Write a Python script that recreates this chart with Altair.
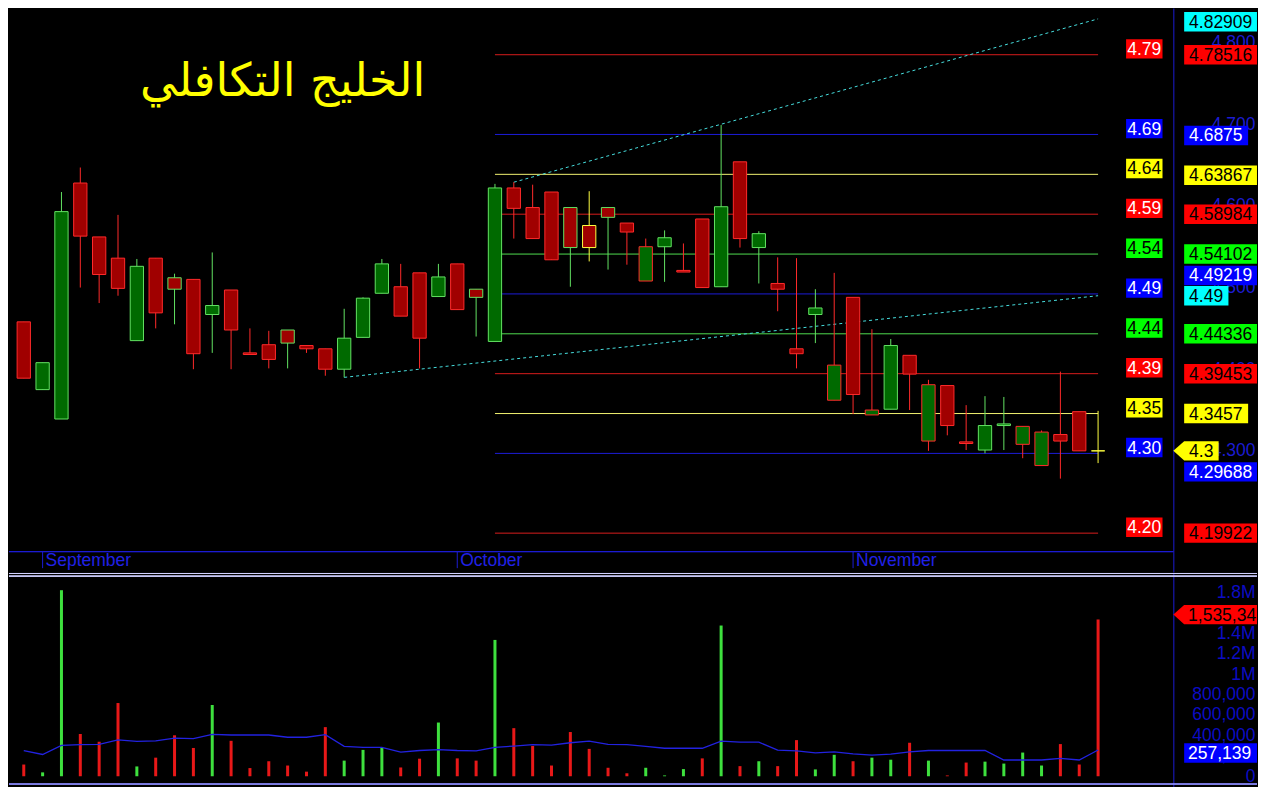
import altair as alt
import pandas as pd

# ------------------------------------------------------------------ data
TITLE = "الخليج التكافلي"
months = ["September", "October", "November"]
month_start = [1, 23, 44]

opens = [4.458, 4.375, 4.339, 4.628, 4.562, 4.536, 4.435, 4.536, 4.512, 4.510,
         4.467, 4.497, 4.420, 4.430, 4.448, 4.429, 4.425, 4.400, 4.439, 4.493,
         4.501, 4.518, 4.489, 4.529, 4.498, 4.434, 4.622, 4.598, 4.617, 4.598,
         4.576, 4.598, 4.579, 4.508, 4.550, 4.521, 4.584, 4.501, 4.654, 4.549,
         4.505, 4.425, 4.467, 4.362, 4.488, 4.344, 4.351, 4.417, 4.312, 4.380,
         4.311, 4.301, 4.331, 4.308, 4.282, 4.320, 4.348, 4.300]
highs = [4.458, 4.408, 4.617, 4.647, 4.562, 4.589, 4.535, 4.536, 4.517, 4.510,
         4.543, 4.497, 4.450, 4.447, 4.448, 4.429, 4.425, 4.474, 4.488, 4.535,
         4.529, 4.518, 4.529, 4.529, 4.498, 4.627, 4.629, 4.626, 4.617, 4.598,
         4.618, 4.598, 4.579, 4.560, 4.570, 4.554, 4.584, 4.699, 4.654, 4.569,
         4.537, 4.536, 4.498, 4.518, 4.488, 4.449, 4.437, 4.417, 4.387, 4.380,
         4.356, 4.367, 4.366, 4.330, 4.325, 4.397, 4.348, 4.349]
lows = [4.389, 4.375, 4.339, 4.500, 4.481, 4.490, 4.435, 4.450, 4.455, 4.400,
        4.420, 4.400, 4.418, 4.401, 4.401, 4.420, 4.392, 4.390, 4.439, 4.493,
        4.465, 4.401, 4.489, 4.473, 4.440, 4.434, 4.560, 4.560, 4.534, 4.501,
        4.532, 4.522, 4.528, 4.508, 4.507, 4.519, 4.500, 4.501, 4.549, 4.505,
        4.471, 4.401, 4.432, 4.362, 4.345, 4.344, 4.351, 4.350, 4.300, 4.319,
        4.301, 4.297, 4.301, 4.291, 4.282, 4.266, 4.300, 4.285]
closes = [4.389, 4.408, 4.593, 4.563, 4.516, 4.499, 4.526, 4.469, 4.498, 4.419,
          4.478, 4.448, 4.418, 4.412, 4.432, 4.425, 4.400, 4.438, 4.487, 4.529,
          4.465, 4.438, 4.513, 4.473, 4.488, 4.622, 4.597, 4.560, 4.534, 4.549,
          4.549, 4.586, 4.568, 4.550, 4.561, 4.519, 4.500, 4.599, 4.560, 4.566,
          4.498, 4.419, 4.475, 4.405, 4.369, 4.350, 4.429, 4.394, 4.381, 4.331,
          4.309, 4.331, 4.333, 4.330, 4.323, 4.312, 4.300, 4.300]
# outline / wick colour code of each candle
edges = ["r", "g", "g", "r", "r", "r", "g", "r", "g", "r",
         "g", "r", "r", "r", "g", "r", "r", "g", "g", "g",
         "r", "r", "g", "r", "g", "g", "r", "r", "r", "g",
         "y", "g", "r", "r", "g", "r", "r", "g", "r", "g",
         "r", "r", "g", "r", "r", "r", "g", "r", "r", "r",
         "r", "g", "g", "r", "r", "r", "r", "y"]

volumes = [114700, 38000, 1822000, 414000, 338000, 717000, 96000, 182000, 401000, 277000,
           698000, 347000, 80000, 147000, 105000, 45000, 481000, 153000, 258000, 277000,
           86000, 172000, 526000, 175000, 153000, 1335000, 471000, 296000, 105000, 433000,
           268000, 83000, 29000, 83000, 8000, 70000, 175000, 1476000, 99000, 147000,
           99000, 354000, 67000, 210000, 147000, 182000, 162000, 328000, 153000, 8000,
           134000, 143000, 124000, 232000, 105000, 315000, 115000, 1535340]
vol_up = [0, 1, 1, 0, 0, 0, 1, 0, 0, 0,
          1, 0, 0, 0, 0, 0, 0, 1, 1, 1,
          0, 0, 1, 0, 0, 1, 0, 0, 0, 0,
          0, 0, 0, 1, 1, 1, 0, 1, 0, 1,
          0, 0, 1, 1, 0, 1, 1, 0, 1, 0,
          0, 1, 1, 1, 1, 0, 0, 0]
vol_avg = [252000, 213000, 303000, 309000, 312000, 357000, 341000, 347000, 373000, 369000,
           411000, 404000, 404000, 404000, 382000, 382000, 408000, 293000, 283000, 283000,
           236000, 252000, 261000, 252000, 248000, 283000, 296000, 309000, 305000, 328000,
           344000, 312000, 309000, 293000, 274000, 274000, 274000, 344000, 334000, 334000,
           255000, 248000, 229000, 239000, 220000, 207000, 217000, 239000, 252000, 252000,
           252000, 252000, 159000, 159000, 159000, 175000, 159000, 257139]

fib_levels = [4.78516, 4.6875, 4.63867, 4.58984, 4.54102, 4.49219,
              4.44336, 4.39453, 4.3457, 4.29688, 4.19922]
fib_short = ["4.79", "4.69", "4.64", "4.59", "4.54", "4.49",
             "4.44", "4.39", "4.35", "4.30", "4.20"]
fib_color = ["r", "b", "y", "r", "g", "b", "g", "r", "y", "b", "r"]
fib_from, fib_to = 25, 57

trend_name = ["upper", "upper", "lower", "lower"]
trend_i = [26, 57, 17, 57]
trend_p = [4.629, 4.82909, 4.390, 4.49]

right_vals = [4.82909, 4.78516, 4.6875, 4.63867, 4.58984, 4.54102, 4.49219,
              4.49, 4.44336, 4.39453, 4.3457, 4.3, 4.29688, 4.19922]
right_text = ["4.82909", "4.78516", "4.6875", "4.63867", "4.58984", "4.54102", "4.49219",
              "4.49", "4.44336", "4.39453", "4.3457", "4.3", "4.29688", "4.19922"]
right_bg = ["c", "r", "b", "y", "r", "g", "b", "c", "g", "r", "y", "y", "b", "r"]

vol_label_vals = [1535340, 257139]
vol_label_text = ["1,535,34", "257,139"]
vol_label_bg = ["r", "b"]

# ------------------------------------------------------------------ layout / style
SX = 1248 / 1268
SY = 778 / 800


def px(v):
    return v * SX


def py(v):
    return v * SY


W = px(1183)
H1 = py(580)
H2 = py(800) - H1

X0, DX = 15.0, 19.15                       # ref pixel of first candle, spacing
x_scale = alt.Scale(domain=[(0 - X0) / DX, (1183 - X0) / DX], nice=False, zero=False, padding=0)
P0, Y0, K = 4.29688, 458.0, 839.6          # price calibration (ref pixels)
p_scale = alt.Scale(domain=[P0 - (580 - Y0) / K, P0 + Y0 / K], nice=False, zero=False, padding=0)
VZ, VK = 789.0, 105e-6                      # volume zero line and px per unit
v_scale = alt.Scale(domain=[-(800 - VZ) / VK, (VZ - 580) / VK], nice=False, zero=False, padding=0)

FONT = "Liberation Sans"
AXIS_BLUE = "#1c1cd2"
BOX = {"r": "#ff0000", "b": "#0000ff", "y": "#ffff00", "g": "#00ff00", "c": "#00ffff"}
LINE = {"r": "#d81c1c", "b": "#1c1cd8", "y": "#f2f270", "g": "#4fdc4f"}
FILL = {"r": "#a00000", "g": "#006a00", "y": "#ffff40"}
EDGE = {"r": "#ff2a2a", "g": "#62e262", "y": "#ffff40"}
FS = 17.5

price_axis = alt.Axis(orient="right", values=[4.2, 4.3, 4.4, 4.5, 4.6, 4.7, 4.8], format=".3f",
                      labelAlign="right", labelPadding=px(1266) - W, labelColor=AXIS_BLUE,
                      labelFont=FONT, labelFontSize=FS, ticks=False, grid=False, title=None,
                      domainColor=AXIS_BLUE, labelFlush=False, labelOverlap=False)
vol_axis = alt.Axis(orient="right", values=[i * 200000 for i in range(10)],
                    labelExpr="datum.value >= 1000000 ? format(datum.value / 1000000, '.1~f') + 'M' : format(datum.value, ',')",
                    labelAlign="right", labelPadding=px(1266) - W, labelColor="#0c0cc4",
                    labelFont=FONT, labelFontSize=FS, ticks=False, grid=False, title=None,
                    domainColor=AXIS_BLUE, labelFlush=False, labelOverlap=False)


def text_w(s):
    return sum(5.0 if ch in ".," else 10.0 for ch in s)


def box_path(w, arrow=False):
    h = py(10)
    w = px(w)
    if arrow:
        return f"M{-px(11):.2f},0L0,{-h:.2f}H{w:.2f}V{h:.2f}H0Z"
    return f"M0,{-h:.2f}H{w:.2f}V{h:.2f}H0Z"


# ------------------------------------------------------------------ tables
n = len(opens)
candles = pd.DataFrame({"i": list(range(n)), "open": opens, "high": highs,
                        "low": lows, "close": closes})
candles["edge"] = [EDGE[e] for e in edges]
candles["fill"] = [FILL["g"] if c > o else (FILL["r"] if c < o else FILL["y"])
                   for o, c in zip(opens, closes)]

vol = pd.DataFrame({"i": list(range(n)), "vol": volumes, "avg": vol_avg,
                    "col": ["#3ee03e" if u else "#e81818" for u in vol_up]})

fib = pd.DataFrame({"level": fib_levels, "txt": fib_short,
                    "line": [LINE[c] for c in fib_color],
                    "bg": [BOX[c] for c in fib_color],
                    "fg": ["#000000" if c in "yg" else "#ffffff" for c in fib_color]})
fib["x0"] = fib_from
fib["x1"] = fib_to
fib["ypos"] = fib["level"] + 6 / K
fib["shape"] = box_path(37)

trend = pd.DataFrame({"name": trend_name, "i": trend_i, "p": trend_p})

nudge = {"4.82909": 3, "4.6875": 1, "4.63867": 1, "4.49219": -19, "4.29688": 19}
right = pd.DataFrame({"val": right_vals, "txt": right_text,
                      "bg": [BOX[c] for c in right_bg],
                      "fg": ["#ffffff" if c == "b" else "#000000" for c in right_bg]})
right["ypos"] = [v - nudge.get(t, 0) / K for v, t in zip(right_vals, right_text)]
right["shape"] = [box_path(min(text_w(t) + 10, 74), arrow=(t == "4.3")) for t in right_text]

vlab = pd.DataFrame({"val": vol_label_vals, "txt": vol_label_text,
                     "bg": [BOX[c] for c in vol_label_bg],
                     "fg": ["#000000" if c == "r" else "#ffffff" for c in vol_label_bg]})
vnudge = {"1,535,34": -5, "257,139": 3}
vlab["ypos"] = [v - vnudge.get(t, 0) / VK for v, t in zip(vol_label_vals, vol_label_text)]
vlab["shape"] = [box_path(74, arrow=(t == "1,535,34")) for t in vol_label_text]

mon = pd.DataFrame({"i": month_start, "name": months})
ttl = pd.DataFrame({"t": [TITLE]})

# ------------------------------------------------------------------ price panel
X = alt.X("i:Q", scale=x_scale, axis=None)


def PY(field):
    return alt.Y(field, type="quantitative", scale=p_scale, axis=price_axis)


fib_lines = alt.Chart(fib).mark_rule(strokeWidth=1).encode(
    x=alt.X("x0:Q", scale=x_scale, axis=None), x2="x1:Q", y=PY("level"),
    color=alt.Color("line:N", scale=None))

trend_lines = alt.Chart(trend).mark_line(color="#46dede", strokeWidth=1, strokeDash=[3, 3]).encode(
    x=X, y=PY("p"), detail="name:N")

base_line = alt.Chart(mon).mark_rule(color=AXIS_BLUE, strokeWidth=1).encode(
    x=alt.value(0), x2=alt.value(W), y=alt.value(py(559)))

month_ticks = alt.Chart(mon).mark_rule(color=AXIS_BLUE, strokeWidth=1).encode(
    x=X, y=alt.value(py(559)), y2=alt.value(py(576)))

month_text = alt.Chart(mon).mark_text(align="left", baseline="middle", font=FONT,
                                      fontSize=17.5, color="#2020e6", dx=px(3)).encode(
    x=X, y=alt.value(py(569)), text="name:N")

wicks = alt.Chart(candles).mark_rule(strokeWidth=1).encode(
    x=X, y=PY("low"), y2="high:Q", color=alt.Color("edge:N", scale=None))

bodies = alt.Chart(candles).mark_bar(size=px(13.5), strokeWidth=1).encode(
    x=X, y=PY("open"), y2="close:Q",
    fill=alt.Fill("fill:N", scale=None), stroke=alt.Stroke("edge:N", scale=None))

fib_boxes = alt.Chart(fib).mark_point(filled=True, size=4, opacity=1, strokeWidth=0).encode(
    x=alt.value(px(1135)), y=PY("ypos"),
    shape=alt.Shape("shape:N", scale=None), fill=alt.Fill("bg:N", scale=None))
fib_text = alt.Chart(fib).mark_text(align="center", baseline="middle", font=FONT,
                                    fontSize=FS, dy=1).encode(
    x=alt.value(px(1153.5)), y=PY("ypos"), text="txt:N",
    color=alt.Color("fg:N", scale=None))

right_boxes = alt.Chart(right).mark_point(filled=True, size=4, opacity=1, strokeWidth=0).encode(
    x=alt.value(px(1194)), y=PY("ypos"),
    shape=alt.Shape("shape:N", scale=None), fill=alt.Fill("bg:N", scale=None))
right_text_l = alt.Chart(right).mark_text(align="left", baseline="middle", font=FONT,
                                          fontSize=FS, dy=1).encode(
    x=alt.value(px(1199)), y=PY("ypos"), text="txt:N",
    color=alt.Color("fg:N", scale=None))

title = alt.Chart(ttl).mark_text(align="center", baseline="middle", font="DejaVu Sans",
                                 fontSize=46, color="#ffff00").encode(
    x=alt.value(px(278)), y=alt.value(py(76)), text="t:N")

price = alt.layer(fib_lines, trend_lines, base_line, month_ticks, month_text, wicks, bodies,
                  fib_boxes, fib_text, right_boxes, right_text_l, title
                  ).properties(width=W, height=H1)

# ------------------------------------------------------------------ volume panel


def VY(field):
    return alt.Y(field, type="quantitative", scale=v_scale, axis=vol_axis)


vbars = alt.Chart(vol).mark_rule(strokeWidth=3).encode(
    x=X, y=VY("vol"), y2=alt.datum(0), color=alt.Color("col:N", scale=None))
vavg = alt.Chart(vol).mark_line(color="#2222e0", strokeWidth=1.3).encode(x=X, y=VY("avg"))

sep1 = alt.Chart(mon).mark_rule(color="#d0d0ff", strokeWidth=1).encode(
    x=alt.value(0), x2=alt.value(px(1268)), y=alt.value(0.5))
sep2 = alt.Chart(mon).mark_rule(color="#d0d0ff", strokeWidth=1).encode(
    x=alt.value(0), x2=alt.value(px(1268)), y=alt.value(py(2.7) + 0.5))
sep3 = alt.Chart(mon).mark_rule(color="#8c8cff", strokeWidth=1).encode(
    x=alt.value(0), x2=alt.value(px(1268)), y=alt.value(py(217)))

vboxes = alt.Chart(vlab).mark_point(filled=True, size=4, opacity=1, strokeWidth=0).encode(
    x=alt.value(px(1194)), y=VY("ypos"),
    shape=alt.Shape("shape:N", scale=None), fill=alt.Fill("bg:N", scale=None))
vtext = alt.Chart(vlab).mark_text(align="left", baseline="middle", font=FONT,
                                  fontSize=FS, dy=1).encode(
    x=alt.value(px(1198)), y=VY("ypos"), text="txt:N",
    color=alt.Color("fg:N", scale=None))

volume = alt.layer(vbars, vavg, sep1, sep2, sep3, vboxes, vtext).properties(width=W, height=H2)

chart = alt.vconcat(price, volume, spacing=0).properties(
    background="#000000", padding=0
).configure_view(strokeWidth=0)

chart.save("out.html", embed_options={"renderer": "svg", "actions": False})
